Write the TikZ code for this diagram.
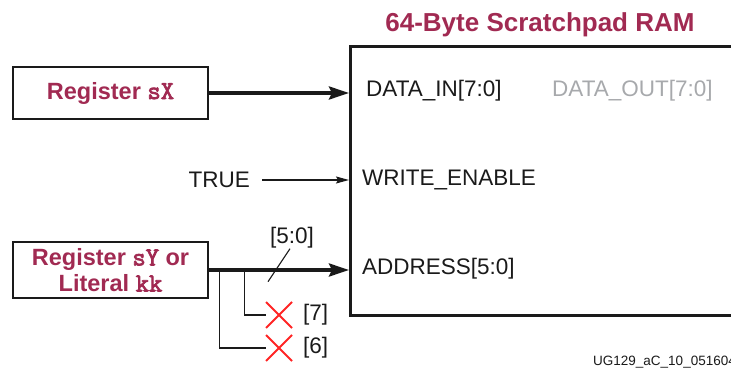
\documentclass[tikz,border=0pt]{standalone}
\usepackage{fontspec}
\setmainfont{Liberation Sans}
\setmonofont{Latin Modern Mono}[Scale=1.1,BoldFont={Latin Modern Mono},BoldFeatures={FakeBold=3}]
\usetikzlibrary{arrows.meta,positioning,calc,shapes.misc}
\definecolor{ink}{HTML}{1A1A1A}
\definecolor{maroon}{HTML}{A12A52}
\definecolor{dimmed}{HTML}{A7A9AC}
\definecolor{xred}{HTML}{FF2424}
\tikzset{
  regbox/.style={draw=ink,line width=2.6pt,fill=white,minimum width=195pt,inner sep=0pt,align=center,font=\fontsize{23.5}{26}\selectfont\bfseries,text=maroon},
  ramtitle/.style={font=\fontsize{26}{30}\selectfont\bfseries,text=maroon},
  port/.style={anchor=west,inner sep=0pt,font=\fontsize{22.5}{27}\selectfont,text=ink},
  tag/.style={anchor=west,inner sep=0pt,font=\fontsize{13.5}{16}\selectfont,text=ink},
  bus/.style={-{Stealth[length=20pt,width=13pt,inset=3pt]},draw=ink,line width=3.4pt},
  sig/.style={-{Stealth[length=13pt,width=7pt,inset=2pt]},draw=ink,line width=1.1pt},
  tap/.style={draw=ink,line width=1.1pt},
  xmark/.style={cross out,draw=xred,line width=2pt,minimum size=24pt,inner sep=0pt},
}
\begin{document}
\begin{tikzpicture}[x=1pt,y=-1pt]
  \useasboundingbox (0,0) rectangle (731,371);
  \node[draw=ink,line width=2.6pt,minimum width=420pt,minimum height=269pt,inner sep=0pt,anchor=north west] (ram) at (349,45) {};
  \node[ramtitle] (title) at (540,25) {64-Byte Scratchpad RAM};
  \node[port] (din) at (366,91) {DATA\_IN[7:0]};
  \node[port,text=dimmed] (dout) at (552,91) {DATA\_OUT[7:0]};
  \node[port] (we) at (362,180) {WRITE\_ENABLE};
  \node[port] (addr) at (362,269) {ADDRESS[5:0]};
  \node[port,anchor=east] (true) at (250,180) {TRUE};
  \node[regbox,minimum height=52pt] (regx) at (110.5,93) {Register \texttt{sX}};
  \node[regbox,minimum height=56pt] (regy) at (110.5,270) {Register \texttt{sY} or\\Literal \texttt{kk}};
  \draw[bus] (regx.east) -- (regx.east -| ram.west);
  \draw[sig] ([xshift=12pt]true.east) -- (true.east -| ram.west);
  \draw[bus] (regy.east) -- (regy.east -| ram.west);
  \node[port,anchor=center] (width) at (292,238) {[5:0]};
  \draw[tap] ([xshift=-2pt]width.south) -- ++(-22,33);
  \node[xmark] (x7) at (279,315) {};
  \node[xmark] (x6) at (279,348) {};
  \node[port,right=11pt of x7] (b7) {[7]};
  \node[port,right=11pt of x6] (b6) {[6]};
  \coordinate (t7) at ($(regy.east)+(35,0)$);
  \coordinate (t6) at ($(regy.east)+(10,0)$);
  \draw[tap] (t7) |- (x7.west);
  \draw[tap] (t6) |- (x6.west);
  \node[tag] (fig) at (593,362) {UG129\_aC\_10\_051604};
\end{tikzpicture}
\end{document}
